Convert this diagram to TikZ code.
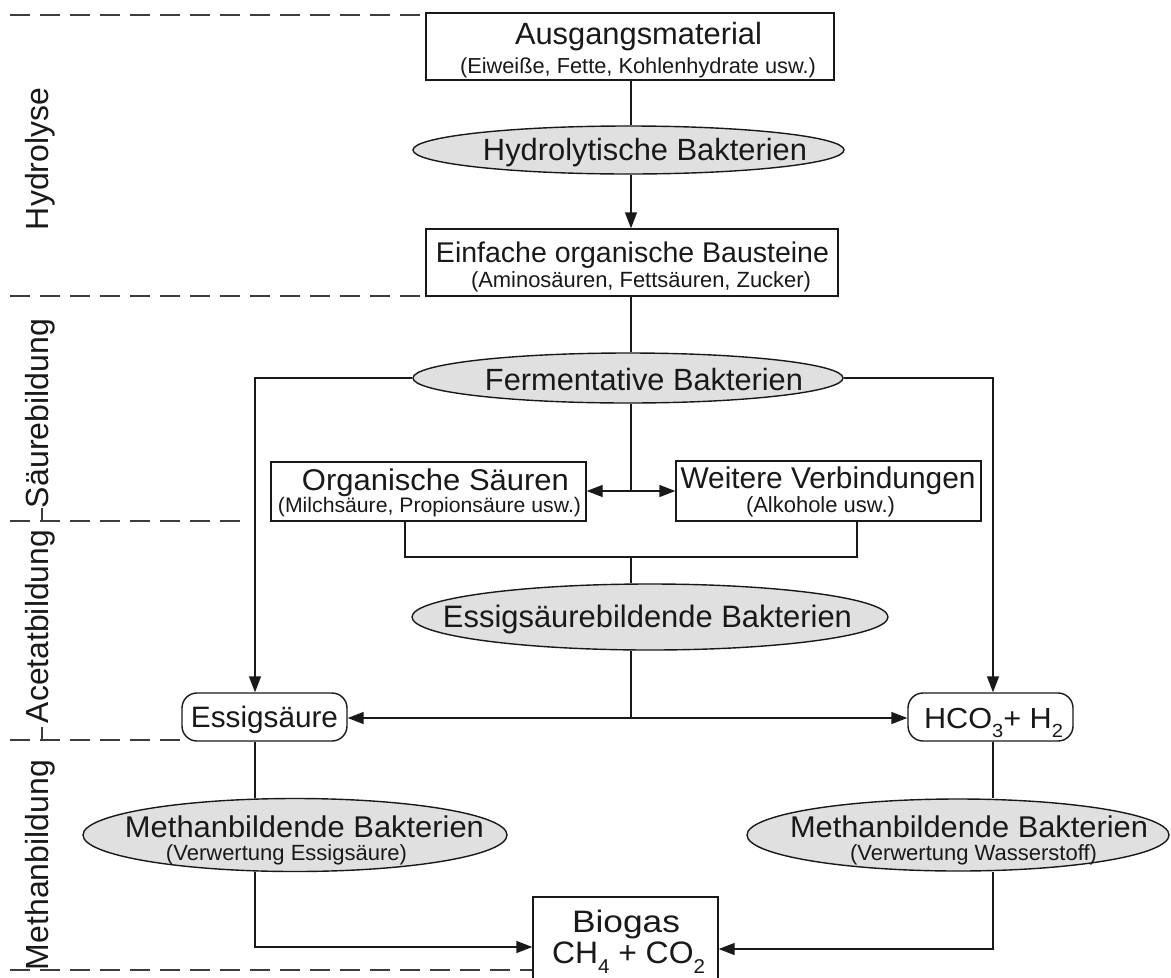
\documentclass[tikz,border=0pt]{standalone}
\usepackage{fontspec}
\setmainfont{Liberation Sans}
\usepackage{graphicx}
\usetikzlibrary{shapes.geometric,arrows.meta}
\newcommand\T[3]{\resizebox{#1pt}{\height}{\fontsize{#2pt}{#2pt}\selectfont #3}}
\newcommand\sbx[3]{\raisebox{-#1pt}{\fontsize{#2pt}{#2pt}\selectfont #3}}
\definecolor{ellgray}{RGB}{224,224,224}
\definecolor{ink}{RGB}{25,25,25}
\definecolor{dashgray}{RGB}{60,60,60}
\tikzset{
  box/.style={draw=ink, line width=1.4pt, rectangle, inner sep=0pt},
  rbox/.style={draw=ink, line width=1.4pt, rectangle, rounded corners=15pt, inner sep=0pt},
  ell/.style={draw=ink, line width=1.4pt, ellipse, fill=ellgray, inner sep=0pt},
  conn/.style={draw=ink, line width=1.4pt},
  arr/.style={-{Triangle[length=16pt,width=12pt]}},
  lbl/.style={inner sep=0pt, anchor=base, text=ink},
  dsh/.style={draw=dashgray, line width=1.4pt, dash pattern=on 20pt off 10pt}
}
\begin{document}
\begin{tikzpicture}[x=1pt,y=-1pt]
\useasboundingbox[fill=white] (0,0) rectangle (1171,978);
\clip (0,0) rectangle (1171,978);

% column / junction coordinates
\coordinate (cx) at (631,0);
\coordinate (lx) at (255,0);
\coordinate (rx) at (993,0);
\coordinate (bl) at (405,0);
\coordinate (br) at (857,0);
\coordinate (jn) at (631,491);
\coordinate (jb) at (0,557);
\coordinate (j2) at (631,718);
\coordinate (j3) at (0,947);
\coordinate (j4) at (0,949);

% dashed phase separators
\coordinate (d1a) at (10,15);  \coordinate (d1b) at (426,15);
\coordinate (d2a) at (10,296); \coordinate (d2b) at (426,296);
\coordinate (d3a) at (10,521); \coordinate (d3b) at (245,521);
\coordinate (d4a) at (10,740); \coordinate (d4b) at (182,740);
\coordinate (d5a) at (10,970); \coordinate (d5b) at (533,970);
\draw[dsh] (d1a) -- (d1b);
\draw[dsh] (d2a) -- (d2b);
\draw[dsh] (d3a) -- (d3b);
\draw[dsh] (d4a) -- (d4b);
\draw[dsh] (d5a) -- (d5b);
\coordinate (t1a) at (42,508); \coordinate (t1b) at (42,521);
\coordinate (t2a) at (42,727); \coordinate (t2b) at (42,740);
\draw[dashgray, line width=1.2pt] (t1a) -- (t1b);
\draw[dashgray, line width=1.2pt] (t2a) -- (t2b);

% phase labels
\node[lbl, rotate=90] (ph1) at (48,159) {\T{142}{32}{Hydrolyse}};
\node[lbl, rotate=90] (ph2) at (48,413.5) {\T{189}{32}{Säurebildung}};
\node[lbl, rotate=90] (ph3) at (48,626.5) {\T{193}{32}{Acetatbildung}};
\node[lbl, rotate=90] (ph4) at (48,865) {\T{210}{32}{Methanbildung}};

% shapes
\node[box, minimum width=408pt, minimum height=67pt] (ausg) at (630,46.5) {};
\node[ell, minimum width=431pt, minimum height=48pt] (hyd) at (628.5,150) {};
\node[box, minimum width=412pt, minimum height=67pt] (einf) at (632,262.5) {};
\node[ell, minimum width=430pt, minimum height=50pt] (ferm) at (628,378) {};
\node[box, minimum width=315pt, minimum height=59pt] (org) at (428.5,491.5) {};
\node[box, minimum width=305pt, minimum height=60pt] (weit) at (828.5,491) {};
\node[ell, minimum width=476pt, minimum height=66pt] (essb) at (650,617) {};
\node[rbox, minimum width=165pt, minimum height=48pt] (ess) at (264.5,717) {};
\node[rbox, minimum width=165pt, minimum height=48pt] (hco) at (990.5,717) {};
\node[ell, minimum width=424pt, minimum height=73pt] (ml) at (295,835) {};
\node[ell, minimum width=422pt, minimum height=72pt] (mr) at (958,835) {};
\node[box, minimum width=185pt, minimum height=105pt] (bio) at (625.5,949.5) {};

% texts
\node[lbl] (t1) at (638.5,44) {\T{247}{30.7}{Ausgangsmaterial}};
\node[lbl] (t2) at (638,73) {\T{356}{21.7}{(Eiweiße, Fette, Kohlenhydrate usw.)}};
\node[lbl] (t3) at (645,160) {\T{324}{30.7}{Hydrolytische Bakterien}};
\node[lbl] (t4) at (632.5,262) {\T{393}{28.5}{Einfache organische Bausteine}};
\node[lbl] (t5) at (641,287) {\T{340}{22}{(Aminosäuren, Fettsäuren, Zucker)}};
\node[lbl] (t6) at (644,390) {\T{318}{30.7}{Fermentative Bakterien}};
\node[lbl] (t7) at (435.5,490) {\T{267}{30}{Organische Säuren}};
\node[lbl] (t8) at (429.5,512) {\T{303}{21}{(Milchsäure, Propionsäure usw.)}};
\node[lbl] (t9) at (828,488) {\T{295}{30}{Weitere Verbindungen}};
\node[lbl] (t10) at (820.5,512) {\T{149}{22}{(Alkohole usw.)}};
\node[lbl] (t11) at (647.5,627) {\T{409}{31}{Essigsäurebildende Bakterien}};
\node[lbl] (t12) at (264.5,727) {\T{147}{29.5}{Essigsäure}};
\node[lbl] (t13) at (993.5,728) {\T{139}{29}{HCO\sbx{9}{19}{3}+ H\sbx{9}{19}{2}}};
\node[lbl] (t14) at (304.5,837) {\T{359}{30}{Methanbildende Bakterien}};
\node[lbl] (t15) at (286.5,860) {\T{241}{22}{(Verwertung Essigsäure)}};
\node[lbl] (t16) at (969,837) {\T{358}{30}{Methanbildende Bakterien}};
\node[lbl] (t17) at (973.5,860) {\T{247}{22}{(Verwertung Wasserstoff)}};
\node[lbl] (t18) at (626,932) {\T{108}{31}{Biogas}};
\node[lbl] (t19) at (628.5,963) {\T{153}{31}{CH\sbx{10}{20}{4} + CO\sbx{10}{20}{2}}};

% connectors
\draw[conn] (ausg.south -| cx) -- (hyd.north -| cx);
\draw[conn, arr] (hyd.south -| cx) -- (einf.north -| cx);
\draw[conn] (einf.south -| cx) -- (ferm.north -| cx);
\draw[conn, arr] (ferm.west) -- (ferm.west -| lx) -- (ess.north -| lx);
\draw[conn, arr] (ferm.east) -- (ferm.east -| rx) -- (hco.north -| rx);
\draw[conn] (ferm.south -| cx) -- (jn);
\draw[conn, arr] (jn) -- (org.east |- jn);
\draw[conn, arr] (jn) -- (weit.west |- jn);
\draw[conn] (org.south -| bl) -- (bl |- jb) -- (br |- jb) -- (weit.south -| br);
\draw[conn] (cx |- jb) -- (essb.north -| cx);
\draw[conn] (essb.south -| cx) -- (j2);
\draw[conn, arr] (j2) -- (ess.east |- j2);
\draw[conn, arr] (j2) -- (hco.west |- j2);
\draw[conn] (ess.south -| lx) -- (ml.north -| lx);
\draw[conn, arr] (ml.south -| lx) -- (lx |- j3) -- (bio.west |- j3);
\draw[conn] (hco.south -| rx) -- (mr.north -| rx);
\draw[conn, arr] (mr.south -| rx) -- (rx |- j4) -- (bio.east |- j4);
\end{tikzpicture}
\end{document}
